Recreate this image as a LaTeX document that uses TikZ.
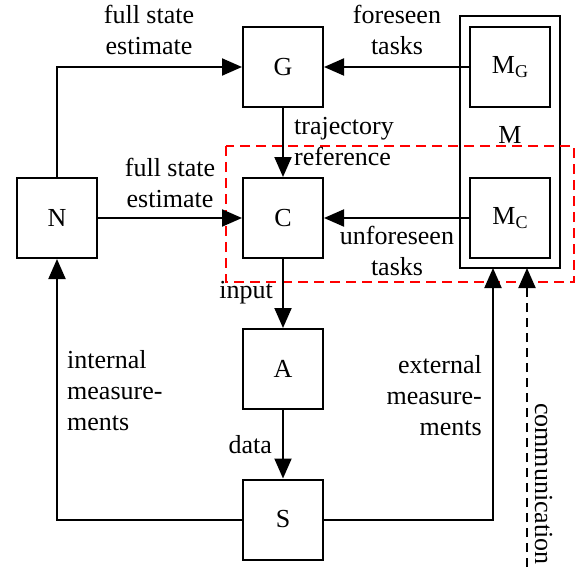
\documentclass[tikz,border=0pt]{standalone}
\usepackage{fontspec}
\setmainfont{Liberation Serif}
\usetikzlibrary{arrows.meta}
\newcommand{\subG}[2]{#1\raisebox{-4.5pt}{\fontsize{18}{18}\selectfont #2}}
\tikzset{
  blk/.style={draw, line width=2pt, minimum size=80pt, inner sep=0pt},
  lbl/.style={inner sep=0pt},
  arr/.style={line width=2pt, -{Triangle[length=20pt,width=17pt]}},
  ln/.style={line width=2pt},
}
\begin{document}
\begin{tikzpicture}[x=1pt,y=-1pt,font=\fontsize{26}{31}\selectfont]
\useasboundingbox (0,0) rectangle (583,567);
% boxes
\node[blk] (G) at (283,67) {G};
\node[blk] (C) at (283,218) {C};
\node[blk] (N) at (57,218) {N};
\node[blk] (A) at (283,369) {A};
\node[blk] (S) at (283,519.5) {S};
\node[draw, line width=2pt, minimum width=100pt, minimum height=252pt, inner sep=0pt] (M) at (510,142) {};
\node[blk] (MG) at (510,67) {\subG{M}{G}};
\node[blk] (MC) at (510,218) {\subG{M}{C}};
\node[lbl, anchor=base] (Mlbl) at (510,143) {M};
% red dashed region
\draw[red, line width=2pt, dash pattern=on 10pt off 6pt] (226,146) rectangle (574,282);
% coordinates
\coordinate (mS) at (493,268);
\coordinate (mC) at (527,268);
\coordinate (cb) at (527,567);
% connectors
\draw[arr] (N.north) |- (G.west);
\draw[arr] (N.east) -- (C.west);
\draw[arr] (G.south) -- (C.north);
\draw[arr] (MG.west) -- (G.east);
\draw[arr] (MC.west) -- (C.east);
\draw[arr] (C.south) -- (A.north);
\draw[arr] (A.south) -- (S.north);
\draw[arr] (S.west) -| (N.south);
\draw[arr] (S.east) -| (mS);
\draw[arr, dash pattern=on 9pt off 6pt] (cb) -- (mC);
% labels (base anchor = last line's baseline)
\node[lbl, anchor=base, align=center] (l1) at (149,55) {full state\\estimate};
\node[lbl, anchor=base, align=center] (l2) at (170,207) {full state\\estimate};
\node[lbl, anchor=base west, align=left] (l3) at (294,165) {trajectory\\reference};
\node[lbl, anchor=base, align=center] (l4) at (397,55) {foreseen\\tasks};
\node[lbl, anchor=base, align=center] (l5) at (397,275) {unforeseen\\tasks};
\node[lbl, anchor=base east] (l6) at (273,298) {input};
\node[lbl, anchor=base east] (l7) at (272,453) {data};
\node[lbl, anchor=base west, align=left] (l8) at (67,430) {internal\\measure-\\ments};
\node[lbl, anchor=base east, align=right] (l9) at (482,435) {external\\measure-\\ments};
\node[lbl, anchor=base west, rotate=-90] (l10) at (535,403) {communication};
\end{tikzpicture}
\end{document}
